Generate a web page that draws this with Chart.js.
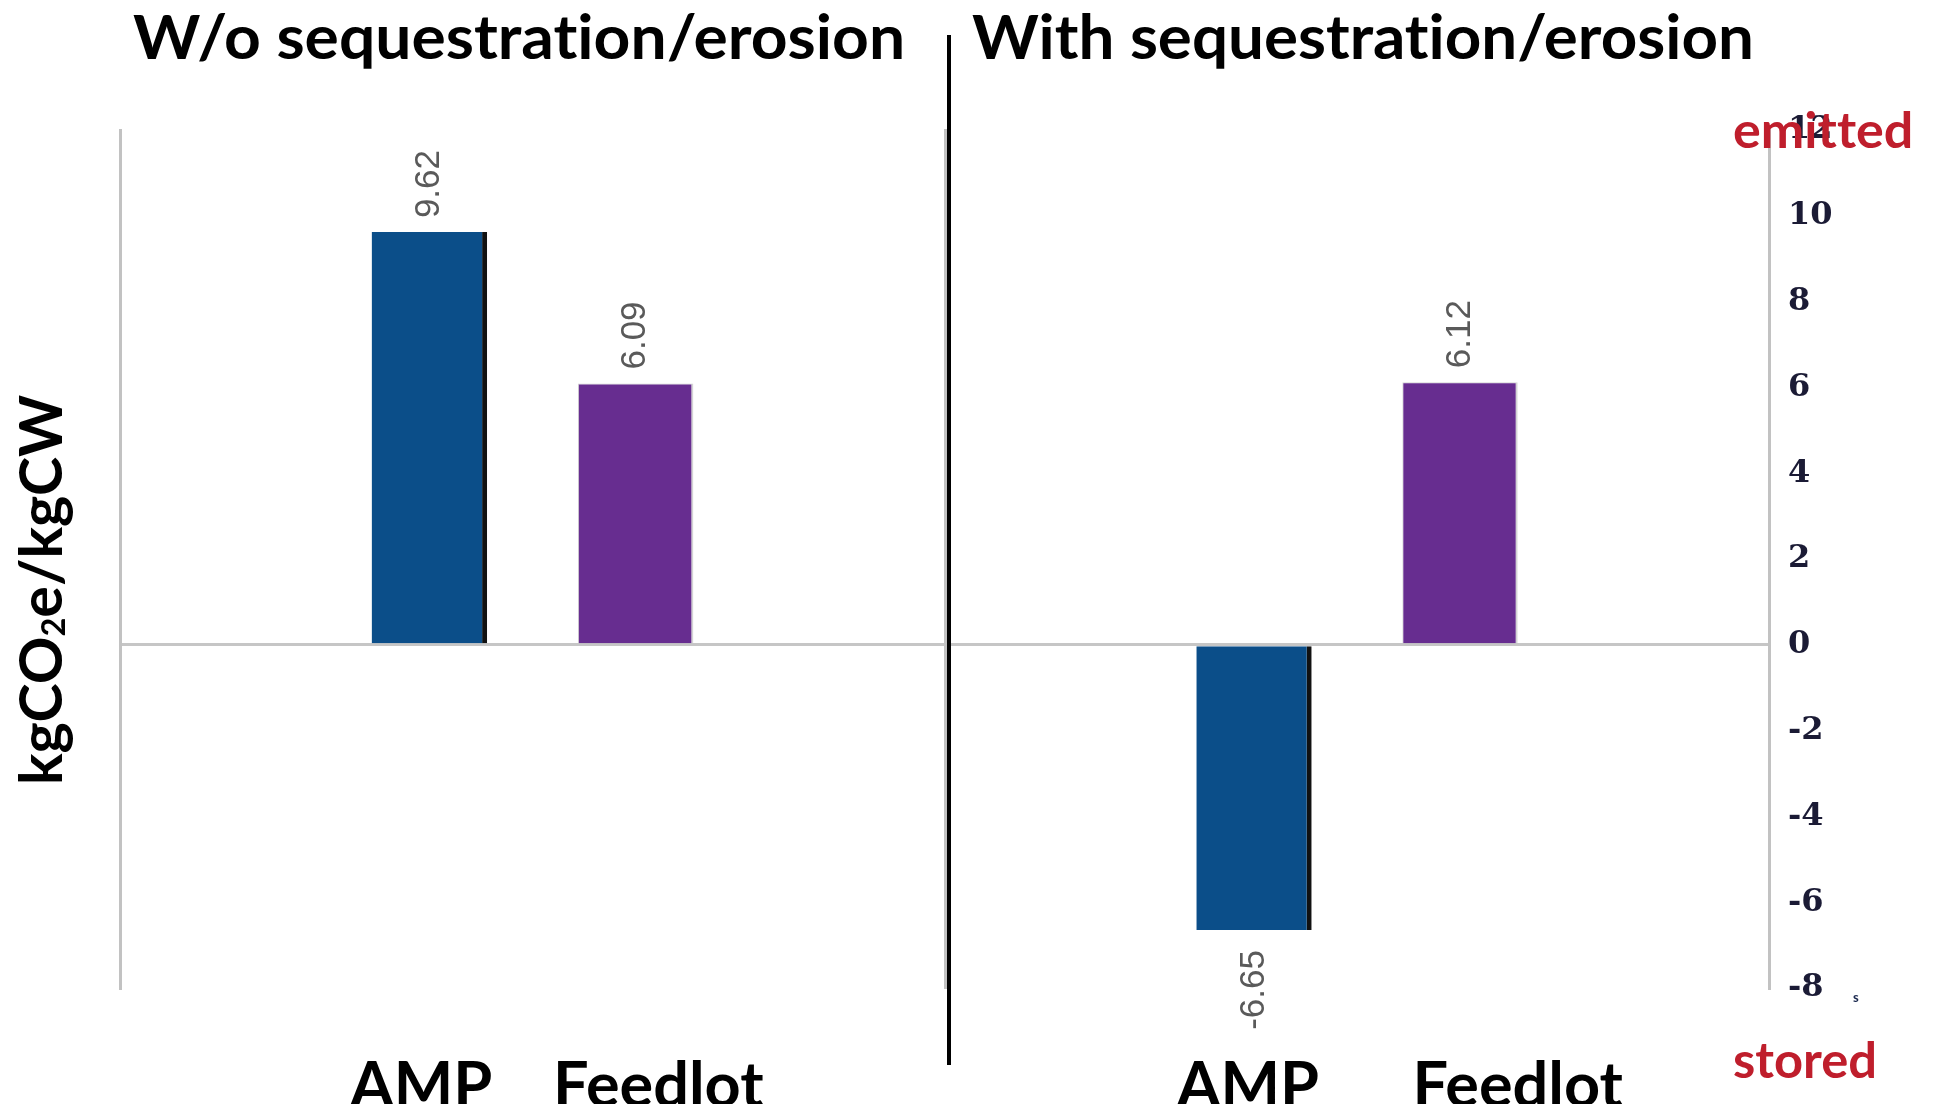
<!DOCTYPE html>
<html>
<head>
<meta charset="utf-8">
<title>kgCO2e/kgCW – AMP vs Feedlot</title>
<script src="https://cdn.jsdelivr.net/npm/chart.js@4.4.1/dist/chart.umd.min.js"></script>
<style>
  html, body { margin: 0; padding: 0; background: #fff; }
  body { width: 1937px; height: 1104px; position: relative; overflow: hidden; font-family: Lato, "Open Sans", sans-serif; }
  canvas { position: absolute; top: 0; }
  #leftPanel { left: 0; }
  #rightPanel { left: 930px; }
  .txt { position: absolute; white-space: nowrap; font-weight: 700; line-height: 1; transform-origin: 0 0; display: inline-block; font-variant-ligatures: none; font-feature-settings: "liga" 0, "clig" 0; }
  .title { font-size: 61px; color: #000; top: 5px; }
  #titleLeft { left: 133px; }
  #titleRight { left: 972px; }
  #yTitle { font-size: 59px; color: #000; left: 10px; top: 785px; }
  #yTitle .sub { font-size: 0.55em; vertical-align: -0.1em; }
  .side { font-size: 50px; color: #bf1e2c; left: 1733px; }
  #emitted { top: 104px; }
  #stored { top: 1034px; }
  #mark { font-size: 13px; color: #1c2a50; left: 1853px; top: 991px; }
  #divider { position: absolute; left: 947px; top: 35px; width: 4px; height: 1030px; background: #000; }
</style>
</head>
<body>
<canvas id="leftPanel" width="960" height="1104"></canvas>
<canvas id="rightPanel" width="1007" height="1104"></canvas>
<div id="divider"></div>
<span class="txt title" id="titleLeft">W/o sequestration/erosion</span>
<span class="txt title" id="titleRight">With sequestration/erosion</span>
<span class="txt" id="yTitle">kgCO<span class="sub">2</span>e/kgCW</span>
<span class="txt side" id="emitted">emitted</span>
<span class="txt side" id="stored">stored</span>
<span class="txt" id="mark">s</span>
<script>
// Systems compared in each panel
const categories = ['AMP', 'Feedlot'];
// kg CO2e per kg carcass weight
const withoutSequestration = [9.62, 6.09];
const withSequestration = [-6.65, 6.12];
// Value axis ticks
const yTickValues = [-8, -6, -4, -2, 0, 2, 4, 6, 8, 10, 12];

const BAR_COLOURS = ['#0b4e89', '#672d90'];
const BAR_EDGES = ['#111111', '#d4d4d4'];
const AXIS_GREY = '#c2c2c2';

// Bars sit in the two middle slots of a four-slot category axis
const slots = ['', ...categories, ''];
// Where the system names sit along the slot axis
const LEFT_NAME_POS = [0.96, 2.11];
const RIGHT_NAME_POS = [0.97, 2.28];

function barDataset(values) {
  return {
    data: [null, ...values, null],
    xAxisID: 'x',
    yAxisID: 'y',
    backgroundColor: c => BAR_COLOURS[c.dataIndex - 1],
    borderColor: c => BAR_EDGES[c.dataIndex - 1],
    borderWidth: c => c.dataIndex === 1
      ? { top: 0, right: 5, bottom: 0, left: 0 }
      : { top: 1, right: 2, bottom: 0, left: 1 },
    barPercentage: 0.56,
    categoryPercentage: 1
  };
}

const zeroGrid = {
  drawTicks: false,
  lineWidth: 3,
  color: c => (c.tick && c.tick.value === 0 ? '#c6c6c6' : 'rgba(0,0,0,0)')
};
const axisBorder = { display: true, color: AXIS_GREY, width: 3 };
const setTicks = s => { s.ticks = yTickValues.map(v => ({ value: v })); };

function nameAxis(positions) {
  return {
    type: 'linear',
    position: 'bottom',
    min: -0.5,
    max: slots.length - 0.5,
    bounds: 'data',
    offset: false,
    afterBuildTicks: s => { s.ticks = positions.map(v => ({ value: v })); },
    afterFit: s => { s.height = 116; },
    grid: { display: false },
    border: { display: false },
    ticks: {
      autoSkip: false,
      maxRotation: 0,
      minRotation: 0,
      padding: 53,
      color: '#000',
      font: { family: 'Lato', weight: 'bold', size: 63 },
      callback: (v, i) => categories[i]
    }
  };
}

// Rotated value labels above positive bars and below negative ones
const valueLabels = {
  id: 'valueLabels',
  afterDatasetsDraw(chart) {
    const ctx = chart.ctx;
    const data = chart.data.datasets[0].data;
    ctx.save();
    ctx.font = '35px "Liberation Sans", Arial, sans-serif';
    ctx.fillStyle = '#5a5a5a';
    ctx.textBaseline = 'middle';
    chart.getDatasetMeta(0).data.forEach((bar, i) => {
      const v = data[i];
      if (v == null) return;
      const up = v >= 0;
      ctx.save();
      ctx.translate(bar.x, up ? bar.y - 14 : bar.y + 20);
      ctx.rotate(-Math.PI / 2);
      ctx.textAlign = up ? 'left' : 'right';
      ctx.fillText(v.toFixed(2), 0, 0);
      ctx.restore();
    });
    ctx.restore();
  }
};

const common = {
  responsive: false,
  animation: false,
  devicePixelRatio: 1,
  plugins: { legend: { display: false }, tooltip: { enabled: false } }
};

new Chart(document.getElementById('leftPanel'), {
  type: 'bar',
  data: { labels: slots, datasets: [barDataset(withoutSequestration)] },
  options: {
    ...common,
    layout: { padding: { left: 120, top: 130, right: 15, bottom: 0 } },
    scales: {
      x: { display: false },
      names: nameAxis(LEFT_NAME_POS),
      y: {
        position: 'left',
        min: -8, max: 12,
        afterBuildTicks: setTicks,
        afterFit: s => { s.width = 0; },
        ticks: { display: false },
        grid: zeroGrid,
        border: axisBorder
      }
    }
  },
  plugins: [valueLabels]
});

new Chart(document.getElementById('rightPanel'), {
  type: 'bar',
  data: { labels: slots, datasets: [barDataset(withSequestration)] },
  options: {
    ...common,
    layout: { padding: { left: 15, top: 130, right: 0, bottom: 0 } },
    scales: {
      x: { display: false },
      names: nameAxis(RIGHT_NAME_POS),
      y: {
        position: 'right',
        min: -8, max: 12,
        afterBuildTicks: setTicks,
        afterFit: s => { s.width = 168; },
        ticks: {
          padding: 19,
          color: '#1b1b35',
          font: { family: 'DejaVu Serif', weight: 'bold', size: 32 }
        },
        grid: zeroGrid,
        border: axisBorder
      },
      yLeft: {
        position: 'left',
        min: -8, max: 12,
        afterFit: s => { s.width = 0; },
        ticks: { display: false },
        grid: { display: false },
        border: axisBorder
      }
    }
  },
  plugins: [valueLabels]
});

// Stretch the heading texts to their set widths
function fitWidth(id, width, rotated) {
  const el = document.getElementById(id);
  const k = width / el.offsetWidth;
  el.style.transform = (rotated ? 'rotate(-90deg) ' : '') + 'scaleX(' + k + ')';
}
fitWidth('titleLeft', 772);
fitWidth('titleRight', 782);
fitWidth('yTitle', 390, true);
fitWidth('emitted', 180);
fitWidth('stored', 144);
</script>
</body>
</html>
